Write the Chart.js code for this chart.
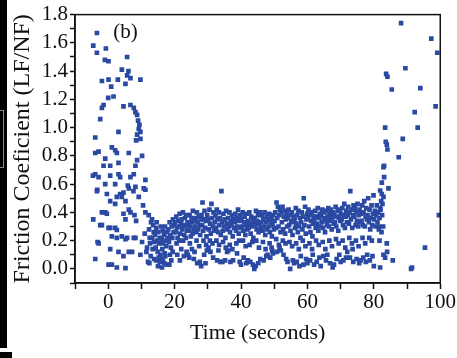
<!DOCTYPE html>
<html>
<head>
<meta charset="UTF-8">
<title>Friction coefficient</title>
<style>
  body { margin: 0; background: #fff; }
  #wrap { position: relative; width: 457px; height: 358px; }
  #strip { position: absolute; left: 0; top: 0; width: 7px; height: 348px; background: #000; }
  #strip2 { position: absolute; left: 0; top: 352px; width: 12px; height: 6px; background: #000; }
  #mark { position: absolute; left: 0; top: 110px; width: 3px; height: 56px; border: 1px solid #888; border-left: none; }
</style>
</head>
<body>
<div id="wrap">
  <canvas id="chart"></canvas>
  <div id="strip"></div>
  <div id="mark"></div>
  <div id="strip2"></div>
</div>

<script src="https://cdn.jsdelivr.net/npm/chart.js@4.4.0/dist/chart.umd.min.js"></script>

<script>
// [time (s), friction coefficient]
const runIn = [
  [-3.4,1.67],[-4.5,1.58],[-3.4,1.53],[-0.7,1.56],[0.1,1.47],[-1.0,1.48],[5.7,1.50],[4.1,1.41],[6.1,1.40],[5.7,1.37],
  [-1.9,1.33],[0.1,1.34],[0.9,1.29],[2.9,1.34],[5.2,1.31],[6.7,1.35],[9.7,1.34],[1.6,1.22],[0,1.21],[-1.4,1.16],
  [-1.9,1.14],[-2.4,1.06],[4.6,1.15],[6.7,1.16],[7.7,1.14],[8.2,1.11],[8.7,1.09],[9.0,1.05],[9.4,1.02],[9.2,0.99],
  [9.7,0.97],[8.7,0.95],[9.7,0.92],[8.4,0.91],[3.1,0.97],[-3.9,0.93],
  [-3.9,0.82],[-2.9,0.83],[1.1,0.86],[2.1,0.84],[2.6,0.82],[6.2,0.82],[10.2,0.80],[8.7,0.77],[8.2,0.73],[-1.4,0.73],
  [0.6,0.73],[3.1,0.75],[-0.9,0.78],[-3.9,0.67],[-2.9,0.65],[0.6,0.66],[3.1,0.67],[3.6,0.65],[6.7,0.65],[7.7,0.67],
  [11.2,0.63],[-0.9,0.60],[2.1,0.60],[5.9,0.59],[6.2,0.57],[8.2,0.58],[-3.4,0.55],[-0.4,0.53],[3.6,0.53],[4.1,0.51],
  [4.6,0.54],[9.2,0.51],[11.2,0.56],[0.6,0.48],[2.1,0.46],[5.2,0.48],[6.2,0.42],[6.7,0.40],[-1.9,0.40],[-0.9,0.40],
  [-4.6,0.66],[-3.3,0.56],[2.6,0.51],[7.6,0.55],[10.7,0.57],[-0.4,0.39],[4.6,0.39],[7.9,0.38],[8.4,0.34],
  [-4.5,0.35],[-2.4,0.31],[5.2,0.35],[11.2,0.40],[12.2,0.38],[13.2,0.35],[0.1,0.29],[2.1,0.29],[1.1,0.23],[2.6,0.22],
  [4.1,0.23],[7.7,0.22],[-2.9,0.18],[5.2,0.21],[0.6,0.14],[3.1,0.12],[6.2,0.12],[9.7,0.10],[-3.9,0.07],[0.1,0.03],
  [1.1,0.03],[2.6,0.01],[5.2,0.005],[-1.9,0.31],[0.6,0.29],[2.6,0.275],[5.7,0.22],[8.2,0.22],[10.2,0.19],[11.7,0.15],
  [4.6,0.09],[7.2,0.12],[-3.2,0.19],[10.5,0.45],[11.5,0.12],[12.0,0.05],[11.0,0.25],[12.5,0.22]
];

const steady = [
  [12.3,0.28],[12.6,0.18],[12.9,0.33],[13.2,0.22],[13.4,0.14],[13.7,0.26],[13.9,0.19],[12.8,0.09],[13.5,0.31],[12.4,0.04],[13.8,0.07],
  [14.1,0.24],[14.3,0.15],[14.5,0.29],[14.7,0.20],[14.9,0.12],[15.1,0.26],[15.3,0.18],[15.5,0.22],[15.7,0.10],[15.9,0.30],[14.6,0.33],[15.2,0.08],[15.0,0.02],[15.6,0.05],[14.4,0.06],
  [16.1,0.21],[16.3,0.14],[16.4,0.27],[16.6,0.18],[16.8,0.24],[17.0,0.11],[17.1,0.30],[17.3,0.20],[17.5,0.16],[17.7,0.26],[17.9,0.22],[16.5,0.07],[17.2,0.09],[16.2,0.01],[17.6,0.03],[16.9,0.04],
  [18.1,0.28],[18.3,0.19],[18.5,0.33],[18.7,0.24],[18.9,0.15],[19.1,0.30],[19.3,0.22],[19.5,0.35],[19.7,0.26],[19.9,0.31],[18.6,0.10],[19.4,0.12],[18.4,0.03],[19.0,0.06],
  [20.1,0.33],[20.3,0.26],[20.5,0.37],[20.7,0.29],[20.9,0.22],[21.1,0.34],[21.3,0.30],[21.5,0.39],[21.7,0.25],[21.9,0.32],[20.6,0.18],[21.4,0.20],[20.8,0.10],[21.6,0.06],[22.0,0.14],
  [22.1,0.35],[22.3,0.28],[22.5,0.40],[22.7,0.31],[22.9,0.24],[23.1,0.36],[23.3,0.30],[23.5,0.38],[23.7,0.27],[23.9,0.33],[22.6,0.20],[23.4,0.22],[22.8,0.09],[23.6,0.12],[24.0,0.10],
  [24.1,0.32],[24.3,0.27],[24.5,0.38],[24.7,0.30],[24.9,0.23],[25.1,0.36],[25.3,0.33],[25.5,0.41],[25.7,0.28],[25.9,0.34],[24.6,0.18],[25.4,0.25],[24.4,0.08],[25.2,0.14],[25.8,0.07],[26.0,0.12],
  [26.1,0.30],[26.3,0.36],[26.5,0.26],[26.7,0.40],[26.9,0.33],[27.1,0.28],[27.3,0.37],[27.5,0.31],[27.7,0.24],[27.9,0.35],[26.6,0.20],[27.4,0.16],[26.8,0.04],[27.6,0.05],[28.0,0.02],
  [28.1,0.38],[28.3,0.31],[28.4,0.47],[28.6,0.27],[28.8,0.35],[29.0,0.41],[29.2,0.29],[29.4,0.34],[29.6,0.23],[29.8,0.38],[28.7,0.20],[29.5,0.17],[28.9,0.10],[29.7,0.13],[29.3,0.04],
  [30.1,0.35],[30.3,0.28],[30.5,0.42],[30.7,0.32],[30.9,0.25],[31.1,0.46],[31.3,0.36],[31.5,0.30],[31.7,0.40],[31.9,0.27],[30.6,0.20],[31.4,0.18],[30.8,0.12],[31.6,0.08],[30.2,0.15],
  [32.1,0.33],[32.3,0.38],[32.5,0.29],[32.7,0.42],[32.9,0.35],[33.1,0.26],[33.3,0.40],[33.5,0.31],[33.7,0.36],[33.9,0.24],[32.6,0.20],[33.4,0.17],[34.1,0.55],[32.8,0.06],[33.8,0.05],[33.2,0.13],
  [34.3,0.33],[34.5,0.27],[34.7,0.39],[34.9,0.30],[35.1,0.35],[35.3,0.22],[35.5,0.41],[35.7,0.32],[35.9,0.28],[34.6,0.19],[35.4,0.15],[34.4,0.05],[35.2,0.06],[35.8,0.12],
  [36.1,0.36],[36.3,0.30],[36.5,0.40],[36.7,0.26],[36.9,0.34],[37.1,0.31],[37.3,0.38],[37.5,0.23],[37.7,0.35],[37.9,0.29],[36.6,0.17],[37.4,0.14],[36.8,0.05],[37.6,0.06],[36.2,0.13],
  [38.1,0.33],[38.3,0.39],[38.5,0.27],[38.7,0.36],[38.9,0.30],[39.1,0.42],[39.3,0.25],[39.5,0.34],[39.7,0.38],[39.9,0.29],[38.6,0.18],[39.4,0.20],[38.8,0.11],[39.6,0.05],[40.0,0.03],
  [40.1,0.35],[40.3,0.30],[40.5,0.40],[40.7,0.27],[40.9,0.33],[41.1,0.37],[41.3,0.24],[41.5,0.31],[41.7,0.39],[41.9,0.28],[40.6,0.20],[41.4,0.16],[40.8,0.08],[41.6,0.04],[42.0,0.06],
  [42.1,0.34],[42.3,0.29],[42.5,0.40],[42.7,0.32],[42.9,0.25],[43.1,0.37],[43.3,0.30],[43.5,0.35],[43.7,0.22],[43.9,0.33],[42.6,0.17],[43.4,0.19],[42.8,0.05],[43.6,0.03],[44.0,0.00],
  [44.1,0.36],[44.3,0.31],[44.5,0.41],[44.7,0.28],[44.9,0.34],[45.1,0.38],[45.3,0.26],[45.5,0.32],[45.7,0.40],[45.9,0.29],[44.6,0.20],[45.4,0.15],[44.4,0.02],[45.2,0.04],[45.8,0.07],
  [46.1,0.33],[46.3,0.38],[46.5,0.27],[46.7,0.35],[46.9,0.30],[47.1,0.40],[47.3,0.24],[47.5,0.33],[47.7,0.37],[47.9,0.28],[46.6,0.19],[47.4,0.14],[46.8,0.06],[47.6,0.09],[48.0,0.10],
  [48.1,0.35],[48.3,0.30],[48.5,0.39],[48.7,0.26],[48.9,0.33],[49.1,0.36],[49.3,0.23],[49.5,0.31],[49.7,0.38],[49.9,0.28],[48.6,0.18],[49.4,0.13],[48.8,0.08],[49.6,0.11],[49.2,0.15],
  [50.1,0.34],[50.3,0.40],[50.5,0.29],[50.7,0.47],[50.9,0.36],[51.1,0.44],[51.3,0.30],[51.5,0.38],[51.7,0.42],[51.9,0.26],[50.6,0.21],[51.4,0.17],[50.8,0.12],[51.6,0.15],[52.0,0.13],
  [52.1,0.40],[52.3,0.33],[52.5,0.44],[52.7,0.28],[52.9,0.37],[53.1,0.41],[53.3,0.25],[53.5,0.35],[53.7,0.39],[53.9,0.30],[52.6,0.20],[53.4,0.18],[52.8,0.10],[53.6,0.07],[54.0,0.05],
  [54.1,0.36],[54.3,0.42],[54.5,0.31],[54.7,0.38],[54.9,0.27],[55.1,0.34],[55.3,0.40],[55.5,0.24],[55.7,0.33],[55.9,0.37],[54.6,0.19],[55.4,0.16],[54.8,0.00],[55.6,0.06],[56.0,0.04],
  [56.1,0.35],[56.3,0.29],[56.5,0.43],[56.7,0.32],[56.9,0.38],[57.1,0.26],[57.3,0.41],[57.5,0.30],[57.7,0.36],[57.9,0.22],[56.6,0.18],[57.4,0.14],[56.8,0.05],[57.6,0.02],[58.0,0.09],
  [58.1,0.33],[58.3,0.40],[58.5,0.28],[58.7,0.37],[58.9,0.50],[59.1,0.31],[59.3,0.44],[59.5,0.25],[59.7,0.35],[59.9,0.39],[58.6,0.20],[59.4,0.16],[58.8,0.03],[59.6,0.07],[60.0,0.04],
  [60.1,0.36],[60.3,0.42],[60.5,0.30],[60.7,0.38],[60.9,0.26],[61.1,0.34],[61.3,0.40],[61.5,0.23],[61.7,0.32],[61.9,0.37],[60.6,0.18],[61.4,0.14],[60.8,0.06],[61.6,0.10],[62.0,0.03],
  [62.1,0.35],[62.3,0.41],[62.5,0.29],[62.7,0.37],[62.9,0.32],[63.1,0.43],[63.3,0.27],[63.5,0.36],[63.7,0.39],[63.9,0.30],[62.6,0.20],[63.4,0.17],[62.8,0.05],[63.6,0.08],[64.0,0.02],
  [64.1,0.38],[64.3,0.33],[64.5,0.42],[64.7,0.29],[64.9,0.36],[65.1,0.40],[65.3,0.26],[65.5,0.34],[65.7,0.41],[65.9,0.31],[64.6,0.19],[65.4,0.14],[64.8,0.09],[65.6,0.06],[66.0,0.10],
  [66.1,0.37],[66.3,0.43],[66.5,0.30],[66.7,0.39],[66.9,0.34],[67.1,0.42],[67.3,0.28],[67.5,0.36],[67.7,0.40],[67.9,0.32],[66.6,0.20],[67.4,0.16],[66.8,0.04],[67.6,0.01],[68.0,0.03],
  [68.1,0.38],[68.3,0.33],[68.5,0.44],[68.7,0.30],[68.9,0.37],[69.1,0.41],[69.3,0.27],[69.5,0.36],[69.7,0.42],[69.9,0.34],[68.6,0.21],[69.4,0.18],[68.8,0.07],[69.6,0.10],[70.0,0.05],
  [70.1,0.39],[70.3,0.35],[70.5,0.43],[70.7,0.31],[70.9,0.38],[71.1,0.46],[71.3,0.29],[71.5,0.37],[71.7,0.41],[71.9,0.33],[70.6,0.20],[71.4,0.15],[70.8,0.06],[71.6,0.08],[72.0,0.12],
  [72.1,0.38],[72.3,0.44],[72.5,0.32],[72.7,0.40],[72.9,0.55],[73.1,0.35],[73.3,0.42],[73.5,0.29],[73.7,0.38],[73.9,0.45],[72.6,0.22],[73.4,0.18],[73.6,0.14],[72.8,0.08],[73.8,0.05],
  [74.1,0.37],[74.3,0.43],[74.5,0.31],[74.7,0.40],[74.9,0.34],[75.1,0.46],[75.3,0.30],[75.5,0.38],[75.7,0.42],[75.9,0.33],[74.6,0.20],[75.4,0.16],[74.8,0.07],[75.6,0.04],[76.0,0.06],
  [76.1,0.39],[76.3,0.34],[76.5,0.45],[76.7,0.31],[76.9,0.40],[77.1,0.48],[77.3,0.30],[77.5,0.37],[77.7,0.43],[77.9,0.35],[76.6,0.22],[77.4,0.18],[76.8,0.08],[77.6,0.05],[78.0,0.10],
  [78.1,0.38],[78.3,0.50],[78.5,0.33],[78.7,0.42],[78.9,0.28],[79.1,0.36],[79.3,0.45],[79.5,0.31],[79.7,0.39],[79.9,0.52],[78.6,0.22],[79.4,0.20],[78.8,0.06],[79.6,0.09],[80.0,0.02],
  [80.1,0.35],[80.3,0.41],[80.5,0.30],[80.7,0.38],[80.9,0.45],[81.1,0.33],[81.3,0.40],[81.5,0.28],[81.7,0.36],[81.9,0.43]
];

const breakdown = [
  [81.9,0.555],[82.4,0.53],[82.9,0.51],[82.2,0.48],[82.6,0.46],[82.4,0.61],[84.4,0.57],[83.1,0.65],[83.1,0.73],[82.9,0.72],
  [84.1,0.845],[83.6,0.90],[83.9,0.88],[83.4,1.00],[83.7,1.38],[84.1,1.36],[85.4,1.27],[87.5,0.79],[88.7,0.92],[88.2,1.74],
  [89.5,1.42],[92.3,1.11],[93.2,1.00],[94.0,1.28],[97.3,1.63],[98.6,1.15],[99.1,1.53],[99.6,0.38],[95.4,0.15],[91.5,0.01],
  [91.2,0.00],[83.9,0.18],[81.7,0.20],[82.9,0.10],[83.4,0.08],[85.7,0.06],[81.9,0.01],[84.0,0.12],[82.5,0.38],[82.0,0.42],
  [81.6,0.30],[82.8,0.30],[82.3,0.26]
];

const xTicks = { min: -10, max: 100, step: 10 };
const yTicks = { min: -0.1, max: 1.8, step: 0.1 };

const serif = 'Liberation Serif';
const dotColor = '#2a49a3';

const framePlugin = {
  id: 'frame',
  afterDraw(chart) {
    const { ctx, chartArea: a, scales } = chart;
    ctx.save();
    ctx.strokeStyle = '#111';
    ctx.lineWidth = 1.5;
    ctx.strokeRect(a.left, a.top, a.right - a.left, a.bottom - a.top);
    ctx.fillStyle = '#111';
    ctx.font = '21px ' + serif;
    ctx.textAlign = 'center';
    ctx.textBaseline = 'middle';
    ctx.fillText('(b)', scales.x.getPixelForValue(5.2), scales.y.getPixelForValue(1.67));
    ctx.restore();
  }
};

const toPts = arr => arr.map(p => ({ x: p[0], y: p[1] }));

new Chart(document.getElementById('chart'), {
  type: 'scatter',
  data: {
    datasets: [{
      data: toPts(runIn).concat(toPts(steady), toPts(breakdown)),
      pointStyle: 'rect',
      pointRadius: 3.3,
      pointHoverRadius: 3.3,
      backgroundColor: dotColor,
      borderWidth: 0
    }]
  },
  options: {
    responsive: true,
    maintainAspectRatio: false,
    animation: false,
    layout: { padding: { top: 3, right: 3, left: 0, bottom: 0 } },
    plugins: { legend: { display: false }, tooltip: { enabled: false } },
    scales: {
      x: {
        type: 'linear',
        min: xTicks.min,
        max: xTicks.max,
        afterFit: s => { s.height = 75; },
        ticks: {
          stepSize: xTicks.step,
          autoSkip: false,
          maxRotation: 0,
          padding: 1,
          color: '#111',
          font: { family: serif, size: 21 },
          callback: v => (v % 20 === 0 ? v : '')
        },
        grid: { drawOnChartArea: false, tickLength: 6, tickColor: '#111', tickWidth: 1.5 },
        border: { color: '#111', width: 1.5 },
        title: {
          display: true,
          text: 'Time (seconds)',
          color: '#111',
          font: { family: serif, size: 22 },
          padding: { top: 12, bottom: 12 }
        }
      },
      y: {
        type: 'linear',
        min: yTicks.min,
        max: yTicks.max,
        afterFit: s => { s.width = 75; },
        ticks: {
          stepSize: yTicks.step,
          autoSkip: false,
          padding: 2,
          color: '#111',
          font: { family: serif, size: 21 },
          callback: v => (Math.round(v * 10) % 2 === 0 ? v.toFixed(1) : '')
        },
        grid: { drawOnChartArea: false, tickLength: 5, tickColor: '#111', tickWidth: 1.5 },
        border: { color: '#111', width: 1.5 },
        title: {
          display: true,
          text: 'Friction Coeficient (LF/NF)',
          color: '#111',
          font: { family: serif, size: 24 },
          padding: { top: 8, bottom: 8 }
        }
      }
    }
  },
  plugins: [framePlugin]
});
</script>
</body>
</html>
